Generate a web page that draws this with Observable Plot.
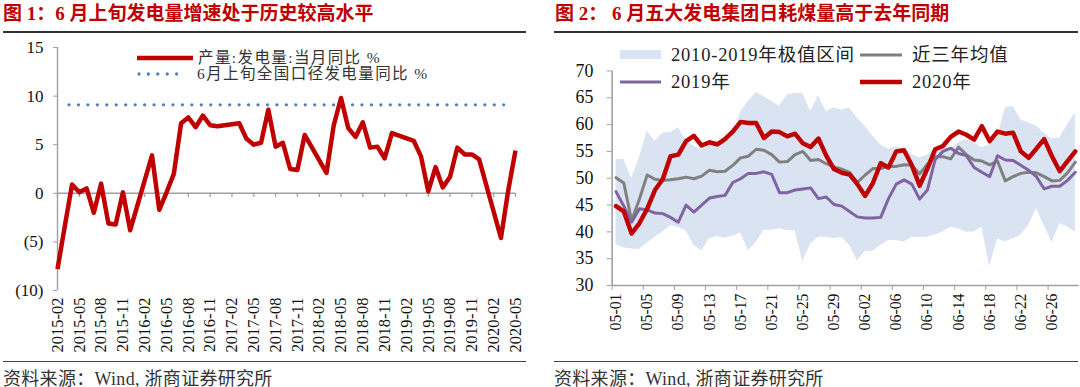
<!DOCTYPE html>
<html><head><meta charset="utf-8">
<script src="https://cdn.jsdelivr.net/npm/d3@7"></script>
<script src="https://cdn.jsdelivr.net/npm/@observablehq/plot@0.6"></script>
<style>
html,body{margin:0;padding:0;width:1080px;height:387px;overflow:hidden;background:#fff;}
body{position:relative;font-family:"Liberation Serif","Noto Sans CJK SC",serif;}
.abs{position:absolute;white-space:nowrap;}
.title{font-size:19px;font-weight:bold;color:#C00000;line-height:22px;}
.rule{height:0;border-top:2px solid #333;}
.rule2{height:0;border-top:1.5px solid #444;}
.foot{font-size:18px;color:#333;line-height:20px;letter-spacing:0.3px;}
.legL{font-size:15.5px;color:#333;line-height:18px;letter-spacing:1.4px;}
.legR{font-size:18.5px;color:#222;line-height:22px;letter-spacing:0.8px;}
</style></head><body>
<script>
// ---------- Left chart data: 产量:发电量:当月同比 (%) ----------
const leftStart = "2015-02";
const leftEnd = "2020-05";
const genYoY = [
  -7.8, -3.4, 0.9, 0.1, 0.5, -2.0, 1.0, -3.1, -3.2, 0.1, -3.8,      // 2015-02 .. 2015-12
  null, null, 3.9, -1.7, 0.1, 2.0, 7.2, 7.8, 6.8, 8.0, 7.0, 6.9,     // 2016
  null, null, 7.2, 5.6, 5.0, 5.2, 8.6, 4.8, 5.2, 2.5, 2.4, 6.0,      // 2017
  null, null, 2.1, 7.0, 9.8, 6.7, 5.8, 7.3, 4.7, 4.8, 3.6, 6.2,      // 2018
  null, null, 5.4, 3.8, 0.2, 2.7, 0.6, 1.7, 4.7, 4.0, 4.0, 3.5,      // 2019
  null, null, -4.6, 0.3, 4.4                                          // 2020-01 .. 2020-05
];
const earlyJuneYoY = 9.1; // 6月上旬全国口径发电量同比 %
const leftYTicks = [-10, -5, 0, 5, 10, 15];
const leftLegend = ["产量:发电量:当月同比 %", "6月上旬全国口径发电量同比 %"];

// ---------- Right chart data: 五大发电集团日耗煤量 ----------
const rightStart = "2020-05-01";
const rightEnd = "2020-06-30"; // exclusive
const bandLow = [
  37.6, 37.0, 36.8, 36.7, 37.9, 39.0, 40.0, 41.2, 40.8, 40.2, 37.5, 36.5, 38.7, 39.1, 38.8, 39.2,
  39.8, 36.5, 38.0, 40.3, 40.3, 40.6, 40.2, 40.2, 34.4, 37.8, 39.0, 39.0, 38.7, 39.0, 37.5,
  34.6, 36.3, 36.4, 37.5, 38.4, 38.4, 38.1, 39.0, 39.0, 39.0, 39.4, 40.0, 40.9, 40.6, 40.0,
  40.0, 40.9, 33.5, 38.7, 38.1, 38.7, 39.4, 41.2, 44.3, 41.2, 38.0, 41.5, 40.9, 40.0
];
const bandHigh = [
  53.5, 53.5, 50.0, 53.8, 58.7, 56.9, 58.4, 58.5, 59.4, 57.0, 56.0, 55.3, 56.1, 56.9, 56.6, 57.5,
  62.4, 64.3, 66.0, 65.2, 64.3, 63.4, 65.5, 65.8, 65.8, 62.4, 65.4, 62.4, 63.1, 62.7, 63.1,
  61.2, 59.7, 57.8, 56.2, 55.4, 55.8, 55.5, 54.4, 53.8, 54.3, 55.7, 55.7, 55.5, 56.6, 57.2,
  56.6, 55.7, 56.3, 57.5, 63.1, 63.4, 60.9, 60.3, 59.7, 58.4, 57.3, 57.5, 60.0, 62.1
];
const avg3y = [
  50.1, 49.1, 42.1, 46.1, 50.6, 49.8, 49.6, 49.7, 49.9, 50.2, 49.9, 50.4, 51.5, 51.2, 51.3, 52.4,
  53.8, 54.1, 55.4, 55.2, 54.4, 53.0, 53.1, 54.4, 55.0, 53.3, 53.5, 52.7, 52.1, 51.7, 51.1,
  49.2, 50.6, 51.8, 51.8, 52.2, 52.2, 52.5, 52.4, 50.8, 52.6, 54.0, 54.0, 53.6, 55.8, 54.4,
  53.4, 53.2, 52.5, 53.2, 49.5, 50.3, 50.9, 51.1, 51.0, 50.3, 49.5, 49.6, 51.0, 53.0
];
const y2019 = [
  47.5, 44.8, 41.8, 44.3, 44.1, 43.5, 43.4, 42.7, 41.8, 45.0, 43.7, 45.0, 46.3, 46.6, 46.8, 49.2,
  49.9, 50.9, 50.9, 51.2, 50.7, 47.3, 47.3, 47.8, 48.0, 48.2, 46.2, 46.5, 45.1, 44.8, 43.8,
  42.8, 42.6, 42.6, 42.7, 46.2, 48.9, 49.7, 48.9, 46.1, 47.8, 53.5, 55.0, 55.6, 54.6, 54.2,
  52.0, 51.1, 50.3, 54.2, 53.4, 53.3, 52.4, 51.5, 50.3, 48.0, 48.5, 48.5, 49.6, 51.1
];
const y2020 = [
  44.8, 43.8, 39.7, 41.6, 44.3, 47.8, 49.8, 54.1, 54.4, 56.9, 57.9, 56.1, 56.7, 56.3, 57.3, 58.7,
  60.5, 60.3, 60.3, 57.5, 58.7, 58.6, 57.8, 58.3, 56.5, 55.8, 57.4, 54.2, 51.7, 51.0, 50.7,
  48.9, 46.7, 49.1, 52.8, 52.0, 55.0, 55.2, 52.4, 48.6, 51.8, 55.4, 56.0, 57.7, 58.7, 58.1,
  57.2, 59.7, 56.9, 58.7, 58.3, 58.5, 55.0, 53.8, 55.5, 57.3, 54.1, 51.3, 53.2, 55.0
];
const rightYTicks = [30, 35, 40, 45, 50, 55, 60, 65, 70];
const rightLegend = ["2010-2019年极值区间", "近三年均值", "2019年", "2020年"];

const titles = ["图 1：6 月上旬发电量增速处于历史较高水平", "图 2：  6 月五大发电集团日耗煤量高于去年同期"];
const source = "资料来源：Wind, 浙商证券研究所";
</script>

<div class="abs title" style="left:3px;top:3px;" id="t1"></div>
<div class="abs title" style="left:555px;top:3px;" id="t2"></div>
<div class="abs rule" style="left:3px;top:31px;width:523px;"></div>
<div class="abs rule" style="left:554px;top:31px;width:524px;"></div>
<div class="abs" id="leftChart" style="left:0;top:40px;"></div>
<div class="abs" id="rightChart" style="left:540px;top:40px;"></div>
<div class="abs rule2" style="left:3px;top:361px;width:523px;"></div>
<div class="abs rule2" style="left:554px;top:361px;width:524px;"></div>
<div class="abs foot" style="left:3px;top:369px;" id="f1"></div>
<div class="abs foot" style="left:554px;top:369px;" id="f2"></div>

<!-- legends -->
<svg class="abs" style="left:0;top:0;" width="1080" height="100" id="legsw">
  <line x1="137" x2="193" y1="58" y2="58" stroke="#C00000" stroke-width="4.5"/>
  <line x1="139" x2="182" y1="74" y2="74" stroke="#4F81BD" stroke-width="3.3" stroke-dasharray="0 9.4" stroke-linecap="round"/>
  <rect x="620" y="50" width="41" height="9" fill="#DAE3F1"/>
  <line x1="860" x2="902" y1="55" y2="55" stroke="#808080" stroke-width="3"/>
  <line x1="620" x2="661" y1="82" y2="82" stroke="#8064A2" stroke-width="3"/>
  <line x1="860" x2="902" y1="82" y2="82" stroke="#C00000" stroke-width="4.5"/>
</svg>
<div class="abs legL" style="left:198px;top:49px;" id="l1"></div>
<div class="abs legL" style="left:197px;top:65px;" id="l2"></div>
<div class="abs legR" style="left:671px;top:44px;" id="r1"></div>
<div class="abs legR" style="left:912px;top:44px;" id="r2"></div>
<div class="abs legR" style="left:671px;top:71px;" id="r3"></div>
<div class="abs legR" style="left:912px;top:71px;" id="r4"></div>

<script>
document.getElementById("t1").textContent = titles[0];
document.getElementById("t2").textContent = titles[1];
document.getElementById("f1").textContent = source;
document.getElementById("f2").textContent = source;
document.getElementById("l1").textContent = leftLegend[0];
document.getElementById("l2").textContent = leftLegend[1];
["r1","r2","r3","r4"].forEach((id,k)=>document.getElementById(id).textContent = rightLegend[k]);

const FONT = '"Liberation Serif", "Noto Sans CJK SC", serif';

// ----- left chart -----
const parseM = d3.utcParse("%Y-%m");
const months = d3.utcMonth.range(parseM(leftStart), d3.utcMonth.offset(parseM(leftEnd), 1)).map(d3.utcFormat("%Y-%m"));
const genRows = months.map((m, i) => ({i, m, v: genYoY[i]})).filter(d => d.v != null);
const leftTicks = months.map((m, i) => i).filter(i => i % 3 === 0);

const leftPlot = Plot.plot({
  width: 540, height: 320,
  marginLeft: 57, marginRight: 25, marginTop: 7, marginBottom: 70,
  style: {fontFamily: FONT, fontSize: "17px", color: "#111", background: "transparent", overflow: "visible"},
  x: {type: "linear", domain: [0, months.length - 1]},
  y: {domain: [-10, 15]},
  marks: [
    Plot.ruleY([0], {stroke: "#a0a0a0", strokeWidth: 1.6}),
    Plot.ruleX(leftTicks, {y1: 0, y2: -0.42, stroke: "#a0a0a0", strokeWidth: 1.3}),
    Plot.ruleX([0], {stroke: "#a0a0a0", strokeWidth: 1.4}),
    Plot.axisY({ticks: leftYTicks, tickFormat: d => d < 0 ? `(${-d})` : `${d}`, tickSize: 4, tickPadding: 10,
      label: null, stroke: "#a0a0a0", fill: "#111", fontSize: 17}),
    Plot.axisX({ticks: leftTicks, tickFormat: i => months[i], tickRotate: -90, tickSize: 0, tickPadding: 7,
      label: null, fill: "#111", fontSize: 16.5}),
    Plot.ruleY([earlyJuneYoY], {stroke: "#4F81BD", strokeWidth: 3.3, strokeDasharray: "0 9.45",
      strokeLinecap: "round", insetLeft: 12, insetRight: 8}),
    Plot.line(genRows, {x: "i", y: "v", stroke: "#C00000", strokeWidth: 4.5, strokeLinejoin: "round", strokeLinecap: "butt"})
  ]
});
document.getElementById("leftChart").appendChild(leftPlot);

// ----- right chart -----
const dates = d3.utcDay.range(new Date(rightStart), new Date(rightEnd)).map(d3.utcFormat("%m-%d"));
const rows = dates.map((d, i) => ({x: i + 0.5, d, lo: bandLow[i], hi: bandHigh[i], avg: avg3y[i], a: y2019[i], b: y2020[i]}));
const bounds = dates.map((d, i) => i).filter(i => i % 4 === 0);
const centers = bounds.map(i => i + 0.5);

const rightPlot = Plot.plot({
  width: 545, height: 320,
  marginLeft: 72.3, marginRight: 1.3, marginTop: 30.7, marginBottom: 72.7,
  style: {fontFamily: FONT, fontSize: "18px", color: "#111", background: "transparent", overflow: "visible"},
  x: {type: "linear", domain: [0, dates.length]},
  y: {domain: [30, 70]},
  marks: [
    Plot.areaY(rows, {x: "x", y1: "lo", y2: "hi", fill: "#DAE3F1"}),
    Plot.line(rows, {x: "x", y: "avg", stroke: "#808080", strokeWidth: 3, strokeLinejoin: "round"}),
    Plot.line(rows, {x: "x", y: "a", stroke: "#8064A2", strokeWidth: 3, strokeLinejoin: "round"}),
    Plot.line(rows, {x: "x", y: "b", stroke: "#C00000", strokeWidth: 4.5, strokeLinejoin: "round"}),
    Plot.ruleX([0], {stroke: "#a0a0a0", strokeWidth: 1.6}),
    Plot.ruleY([30], {stroke: "#a0a0a0", strokeWidth: 1.6}),
    Plot.axisY({ticks: rightYTicks, tickSize: 5, tickPadding: 14, label: null, stroke: "#a0a0a0", fill: "#111", fontSize: 18}),
    Plot.axisX({ticks: bounds, tickFormat: () => "", tickSize: 5, label: null, stroke: "#a0a0a0"}),
    Plot.axisX({ticks: centers, tickFormat: v => dates[Math.round(v - 0.5)], tickRotate: -90, tickSize: 0, tickPadding: 8,
      label: null, fill: "#111", fontSize: 16})
  ]
});
document.getElementById("rightChart").appendChild(rightPlot);
</script>
</body></html>
